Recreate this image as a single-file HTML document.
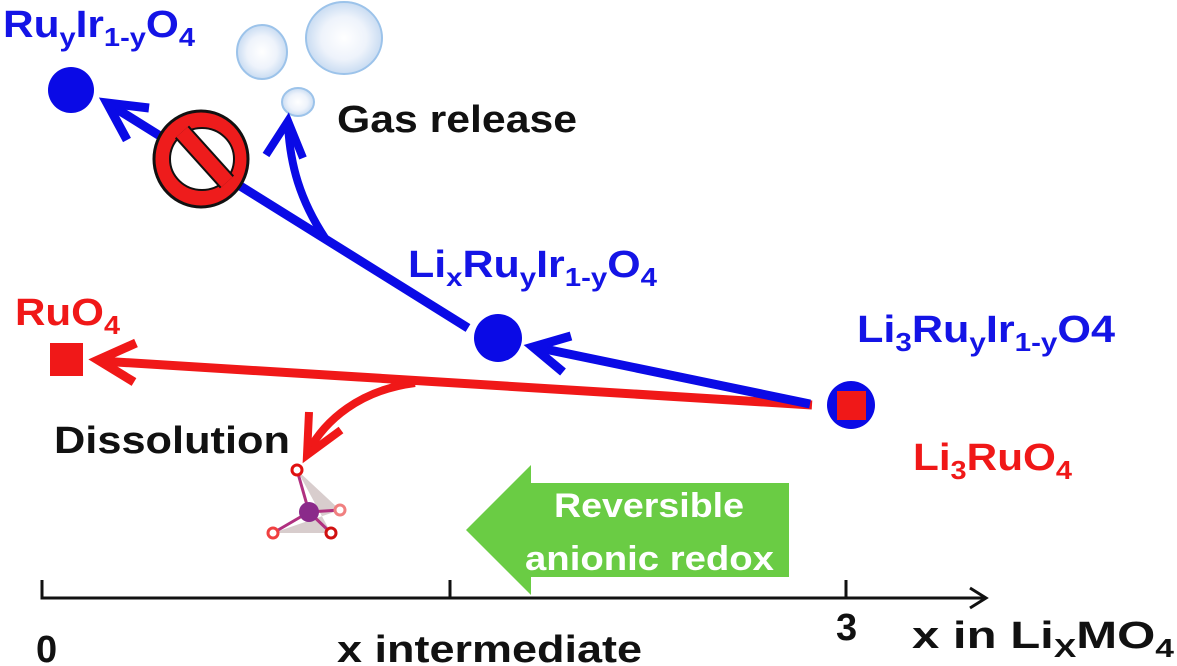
<!DOCTYPE html>
<html><head><meta charset="utf-8"><style>
html,body{margin:0;padding:0;background:#fff;}
svg{display:block;}
text{font-family:"Liberation Sans",sans-serif;font-weight:bold;}
</style></head><body>
<svg width="1177" height="666" viewBox="0 0 1177 666" xmlns="http://www.w3.org/2000/svg">
<defs>
<radialGradient id="bub" cx="50%" cy="50%" r="50%">
<stop offset="0" stop-color="#ffffff"/><stop offset="0.6" stop-color="#eef3fb"/><stop offset="1" stop-color="#c9dcf2"/>
</radialGradient>
</defs>
<!-- bubbles -->
<ellipse cx="262" cy="52" rx="25" ry="27" fill="url(#bub)" stroke="#9cc3ea" stroke-width="2"/>
<ellipse cx="344" cy="38" rx="38" ry="36" fill="url(#bub)" stroke="#9cc3ea" stroke-width="2"/>
<ellipse cx="298" cy="102" rx="16" ry="14" fill="url(#bub)" stroke="#9cc3ea" stroke-width="2"/>

<!-- top label -->
<text x="3" y="37" font-size="38" fill="#1414e6" textLength="192" lengthAdjust="spacingAndGlyphs">Ru<tspan font-size="26" dy="9">y</tspan><tspan dy="-9">Ir</tspan><tspan font-size="26" dy="9">1-y</tspan><tspan dy="-9">O</tspan><tspan font-size="26" dy="9">4</tspan></text>
<circle cx="71" cy="90" r="23" fill="#0a0ae6"/>

<!-- blue main arrow -->
<path d="M468 328 L112 106" stroke="#0a0ae6" stroke-width="9" fill="none"/>
<path d="M149 108 L107 103 L127 140" stroke="#0a0ae6" stroke-width="9" fill="none"/>
<!-- branch -->
<path d="M325 238 C 300 200 290 165 288 124" stroke="#0a0ae6" stroke-width="8" fill="none"/>
<path d="M266 155 L288 121 L303 158" stroke="#0a0ae6" stroke-width="8" fill="none"/>

<!-- prohibition -->
<ellipse cx="201" cy="159" rx="47" ry="48" fill="#ee1c1c" stroke="#111" stroke-width="3"/>
<ellipse cx="202" cy="159" rx="32" ry="31" fill="#fff" stroke="#111" stroke-width="2"/>
<path d="M182 132 L227 182" stroke="#111" stroke-width="19"/>
<path d="M182 132 L227 182" stroke="#ee1c1c" stroke-width="15"/>

<text x="337" y="132" font-size="38" fill="#111" textLength="240" lengthAdjust="spacingAndGlyphs">Gas release</text>

<text x="408" y="277" font-size="38" fill="#1414e6" textLength="249" lengthAdjust="spacingAndGlyphs">Li<tspan font-size="26" dy="9">x</tspan><tspan dy="-9">Ru</tspan><tspan font-size="26" dy="9">y</tspan><tspan dy="-9">Ir</tspan><tspan font-size="26" dy="9">1-y</tspan><tspan dy="-9">O</tspan><tspan font-size="26" dy="9">4</tspan></text>
<circle cx="498" cy="338" r="24" fill="#0a0ae6"/>

<text x="857" y="342" font-size="38" fill="#1414e6" textLength="258" lengthAdjust="spacingAndGlyphs">Li<tspan font-size="26" dy="9">3</tspan><tspan dy="-9">Ru</tspan><tspan font-size="26" dy="9">y</tspan><tspan dy="-9">Ir</tspan><tspan font-size="26" dy="9">1-y</tspan><tspan dy="-9">O4</tspan></text>

<!-- red main -->
<path d="M812 405 L100 361" stroke="#f01818" stroke-width="9" fill="none"/>
<path d="M136 343 L98 360 L134 382" stroke="#f01818" stroke-width="9" fill="none"/>
<!-- blue to Li3 -->
<path d="M810 404 L535 347" stroke="#0a0ae6" stroke-width="9" fill="none"/>
<path d="M571 336 L533 347 L563 372" stroke="#0a0ae6" stroke-width="9" fill="none"/>
<!-- red curve -->
<path d="M415 383 C 360 390 325 420 308 452" stroke="#f01818" stroke-width="8" fill="none"/>
<path d="M309 412 L307 455 L341 430" stroke="#f01818" stroke-width="8" fill="none"/>

<text x="15" y="325" font-size="38" fill="#f01818" textLength="105" lengthAdjust="spacingAndGlyphs">RuO<tspan font-size="26" dy="9">4</tspan></text>
<rect x="50" y="343" width="33" height="33" fill="#f01818"/>

<circle cx="851" cy="405" r="24" fill="#0a0ae6"/>
<rect x="837" y="391" width="29" height="29" fill="#f01818"/>

<text x="913" y="470" font-size="38" fill="#f01818" textLength="159" lengthAdjust="spacingAndGlyphs">Li<tspan font-size="26" dy="9">3</tspan><tspan dy="-9">RuO</tspan><tspan font-size="26" dy="9">4</tspan></text>

<text x="54" y="453" font-size="38" fill="#111" textLength="236" lengthAdjust="spacingAndGlyphs">Dissolution</text>

<!-- tetrahedron -->
<polygon points="297,470 340,510 273,533 331,533" fill="#c8b8b8" opacity="0.7"/>
<path d="M297 470 L309 512 M309 512 L273 533 M309 512 L331 533 M309 512 L340 510" stroke="#b03080" stroke-width="3"/>
<circle cx="309" cy="512" r="10" fill="#8a2a8a"/>
<circle cx="297" cy="470" r="5" fill="#fff" stroke="#e01010" stroke-width="3"/>
<circle cx="273" cy="533" r="5" fill="#fff" stroke="#f04040" stroke-width="3"/>
<circle cx="331" cy="533" r="5" fill="#fff" stroke="#d01010" stroke-width="3"/>
<circle cx="340" cy="510" r="5" fill="#fff" stroke="#f08080" stroke-width="3"/>

<!-- green arrow -->
<polygon points="466,530 531,465 531,483 789,483 789,577 531,577 531,595" fill="#6acc44"/>
<text x="554" y="517" font-size="34" fill="#fff" textLength="190" lengthAdjust="spacingAndGlyphs">Reversible</text>
<text x="525" y="570" font-size="34" fill="#fff" textLength="249" lengthAdjust="spacingAndGlyphs">anionic redox</text>

<!-- axis -->
<path d="M42 580 L42 598 L985 598" stroke="#111" stroke-width="3" fill="none"/>
<path d="M450 580 L450 598 M846 580 L846 598" stroke="#111" stroke-width="3"/>
<path d="M970 588 L986 598 L970 608" stroke="#111" stroke-width="3" fill="none"/>

<text x="36" y="662" font-size="38" fill="#111">0</text>
<text x="337" y="662" font-size="38" fill="#111" textLength="305" lengthAdjust="spacingAndGlyphs">x intermediate</text>
<text x="836" y="640" font-size="38" fill="#111">3</text>
<text x="912" y="648" font-size="38" fill="#111" textLength="262" lengthAdjust="spacingAndGlyphs">x in Li<tspan font-size="26" dy="9">X</tspan><tspan dy="-9">MO</tspan><tspan font-size="26" dy="9">4</tspan></text>
</svg>
</body></html>
